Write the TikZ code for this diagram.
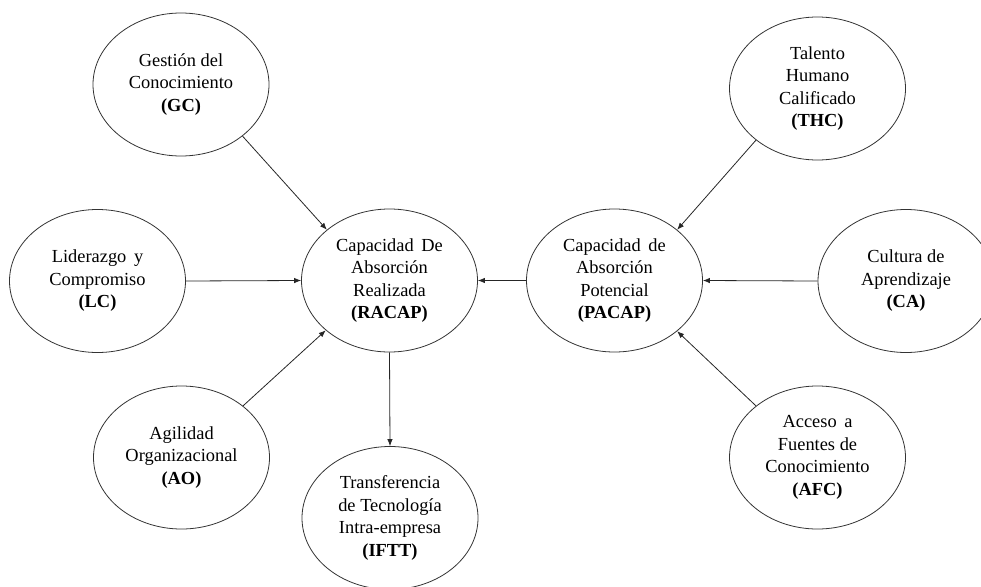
\documentclass[tikz,border=0pt]{standalone}
\usepackage{fontspec}
\setmainfont{Liberation Serif}
\usetikzlibrary{shapes.geometric,arrows.meta}
\begin{document}
\begin{tikzpicture}[x=1pt,y=-1pt,
  var/.style={ellipse,draw=black!80,line width=0.8pt,minimum width=176pt,minimum height=143pt,
    inner sep=0pt,align=center,font=\fontsize{18.4}{22.5}\selectfont},
  conn/.style={line width=0.8pt,draw=black!85,-{Latex[length=7pt,width=5.5pt]}}]
\useasboundingbox (0,0) rectangle (981,586);
\clip (0,0) rectangle (981,586);
\node[var] (GC) at (181,84.5) {Gestión del\\Conocimiento\\\textbf{(GC)}};
\node[var] (LC) at (97.5,281) {Liderazgo\hspace{3pt} y\\Compromiso\\\textbf{(LC)}};
\node[var] (AO) at (181.5,457.5) {Agilidad\\Organizacional\\\textbf{(AO)}};
\node[var] (RACAP) at (389.5,280.5) {Capacidad\hspace{3pt} De\\Absorción\\Realizada\\\textbf{(RACAP)}};
\node[var] (IFTT) at (390,518) {Transferencia\\de Tecnología\\Intra-empresa\\\textbf{(IFTT)}};
\node[var] (PACAP) at (614.5,280.5) {Capacidad\hspace{3pt} de\\Absorción\\Potencial\\\textbf{(PACAP)}};
\node[var] (THC) at (817.5,88.5) {Talento\\Humano\\Calificado\\\textbf{(THC)}};
\node[var] (CA) at (906,281) {Cultura de\\Aprendizaje\\\textbf{(CA)}};
\node[var] (AFC) at (817.5,457.5) {Acceso\hspace{3pt} a\\Fuentes de\\Conocimiento\\\textbf{(AFC)}};
\draw[conn] (GC.-40) -- (RACAP.141.5);
\draw[conn] (LC.east) -- (RACAP.west);
\draw[conn] (AO.40) -- (RACAP.218.5);
\draw[conn] (RACAP.south) -- (IFTT.north);
\draw[conn] (PACAP.west) -- (RACAP.east);
\draw[conn] (THC.220) -- (PACAP.39.5);
\draw[conn] (CA.west) -- (PACAP.east);
\draw[conn] (AFC.140) -- (PACAP.-39.5);
\end{tikzpicture}
\end{document}
